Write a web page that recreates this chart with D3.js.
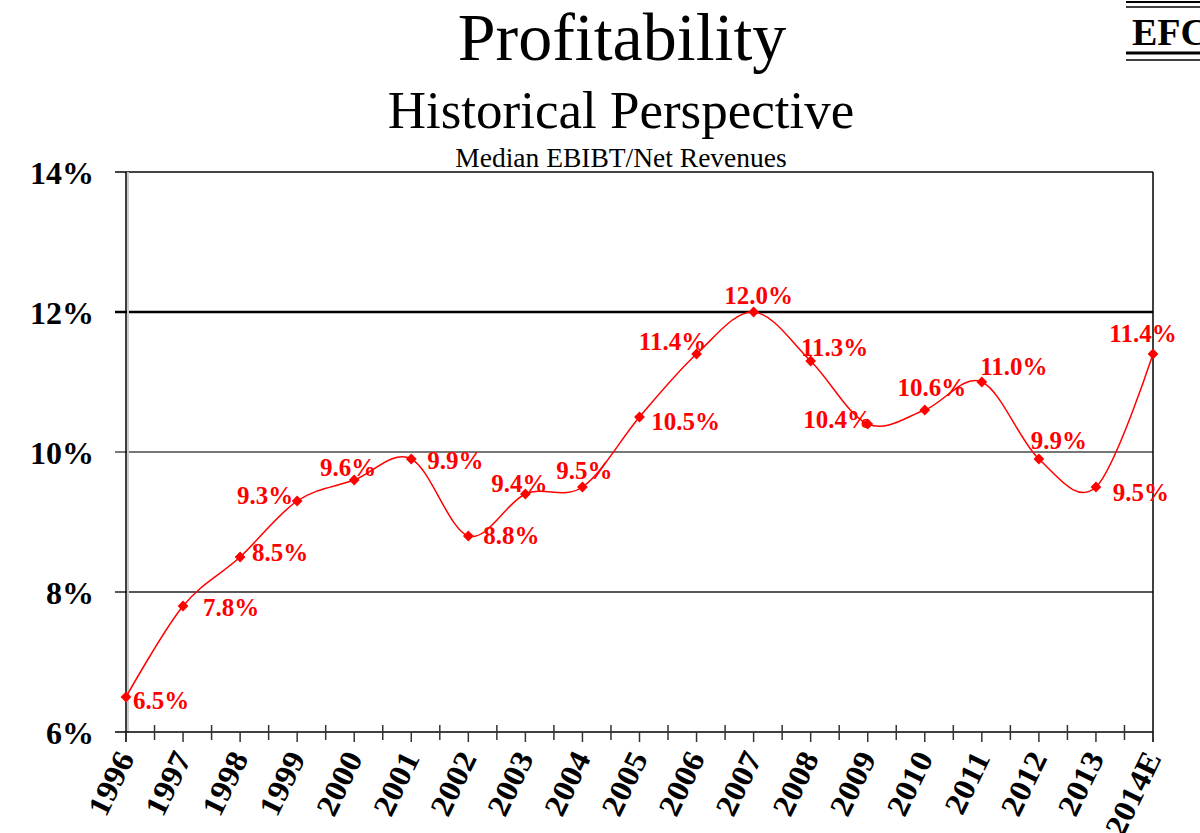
<!DOCTYPE html>
<html>
<head>
<meta charset="utf-8">
<script src="https://cdn.jsdelivr.net/npm/d3@7"></script>
<style>
  html, body { margin: 0; padding: 0; background: #fff; }
  svg { display: block; }
  text { font-family: "Liberation Serif", "Times New Roman", serif; }
</style>
</head>
<body>
<svg id="chart" width="1200" height="833"></svg>
<script>
// ---- data ----
const years = ["1996","1997","1998","1999","2000","2001","2002","2003","2004","2005","2006","2007","2008","2009","2010","2011","2012","2013","2014E"];
const values = [6.5, 7.8, 8.5, 9.3, 9.6, 9.9, 8.8, 9.4, 9.5, 10.5, 11.4, 12.0, 11.3, 10.4, 10.6, 11.0, 9.9, 9.5, 11.4];
const yTicks = [6, 8, 10, 12, 14];
// label centre offsets from each point (px)
const labelDx = [35, 48, 40, -32, -6, 44, 43, -6, 2, 46, -24, 5, 24, -30, 7, 32, 20, 45, -10];
const labelDy = [3, 1, -5, -6, -13, 1, -1, -11, -17, 4, -13, -17, -14, -5, -23, -16, -19, 5, -21];

const svg = d3.select("#chart");
const plotL = 126, plotR = 1153, plotT = 172, plotB = 732;

const x = d3.scalePoint().domain(years).range([plotL, plotR]);
const y = d3.scaleLinear().domain([6, 14]).range([plotB, plotT]);

// ---- titles ----
svg.append("text").attr("x", 622).attr("y", 60).attr("text-anchor", "middle")
  .attr("font-size", 68).text("Profitability");
svg.append("text").attr("x", 621).attr("y", 128).attr("text-anchor", "middle")
  .attr("font-size", 53).text("Historical Perspective");
svg.append("text").attr("x", 621).attr("y", 167).attr("text-anchor", "middle")
  .attr("font-size", 27.5).text("Median EBIBT/Net Revenues");

// ---- EFC logo (clipped at the right edge, as in the source) ----
const logo = svg.append("g");
logo.append("line").attr("x1", 1126).attr("x2", 1200).attr("y1", 2).attr("y2", 2).attr("stroke", "#000").attr("stroke-width", 2);
logo.append("line").attr("x1", 1126).attr("x2", 1200).attr("y1", 7).attr("y2", 7).attr("stroke", "#000").attr("stroke-width", 1.5);
logo.append("text").attr("x", 1132).attr("y", 45).attr("font-size", 38).attr("font-weight", "bold").text("EFC");
logo.append("line").attr("x1", 1126).attr("x2", 1200).attr("y1", 53).attr("y2", 53).attr("stroke", "#000").attr("stroke-width", 3);
logo.append("line").attr("x1", 1126).attr("x2", 1200).attr("y1", 60).attr("y2", 60).attr("stroke", "#000").attr("stroke-width", 1.5);

// ---- gridlines ----
const gridStyle = { 14: ["#444", 2], 12: ["#000", 2.5], 10: ["#777", 2], 8: ["#222", 1.5] };
svg.append("g").selectAll("line").data(yTicks.filter(t => t > 6)).join("line")
  .attr("x1", 115).attr("x2", plotR)
  .attr("y1", d => y(d)).attr("y2", d => y(d))
  .attr("stroke", d => gridStyle[d][0]).attr("stroke-width", d => gridStyle[d][1]);

// ---- y axis labels ----
svg.append("g").selectAll("text").data(yTicks).join("text")
  .attr("x", 94).attr("y", d => y(d)).attr("dy", "0.36em")
  .attr("text-anchor", "end").attr("font-size", 32).attr("font-weight", "bold")
  .text(d => d + "%");

// ---- axes frame ----
svg.append("line").attr("x1", plotL + 2).attr("x2", plotL + 2).attr("y1", plotT).attr("y2", plotB)
  .attr("stroke", "#ccc").attr("stroke-width", 2);
svg.append("line").attr("x1", plotL).attr("x2", plotL).attr("y1", plotT).attr("y2", plotB + 10)
  .attr("stroke", "#000").attr("stroke-width", 1.5);
svg.append("line").attr("x1", plotR).attr("x2", plotR).attr("y1", plotT).attr("y2", plotB + 10)
  .attr("stroke", "#000").attr("stroke-width", 1.5);
svg.append("line").attr("x1", 115).attr("x2", plotR).attr("y1", plotB).attr("y2", plotB)
  .attr("stroke", "#000").attr("stroke-width", 1.5);

// x ticks: at categories (below) and midpoints (crossing)
const step = x.step();
svg.append("g").selectAll("line").data(years).join("line")
  .attr("x1", d => x(d)).attr("x2", d => x(d)).attr("y1", plotB).attr("y2", plotB + 10)
  .attr("stroke", "#333").attr("stroke-width", 1.5);
svg.append("g").selectAll("line").data(years.slice(0, -1)).join("line")
  .attr("x1", d => x(d) + step / 2).attr("x2", d => x(d) + step / 2)
  .attr("y1", plotB - 7).attr("y2", plotB + 8)
  .attr("stroke", "#333").attr("stroke-width", 1.5);

// x labels rotated
svg.append("g").selectAll("text").data(years).join("text")
  .attr("transform", d => `translate(${x(d) + 9},${plotB + 26}) rotate(-64) scale(1.08,1)`)
  .attr("text-anchor", "end")
  .attr("font-size", 31).attr("font-weight", "bold")
  .text(d => d);

// ---- line ----
const line = d3.line()
  .x((d, i) => x(years[i]))
  .y(d => y(d))
  .curve(d3.curveCatmullRom.alpha(0));
svg.append("path").datum(values).attr("d", line)
  .attr("fill", "none").attr("stroke", "#ff0000").attr("stroke-width", 1.5);

// markers
const sym = d3.symbol().type(d3.symbolSquare).size(58);
svg.append("g").selectAll("path").data(values).join("path")
  .attr("d", sym)
  .attr("transform", (d, i) => `translate(${x(years[i])},${y(d)}) rotate(45)`)
  .attr("fill", "#ff0000");

// data labels
svg.append("g").selectAll("text").data(values).join("text")
  .attr("x", (d, i) => x(years[i]) + labelDx[i])
  .attr("y", (d, i) => y(d) + labelDy[i])
  .attr("dy", "0.35em").attr("text-anchor", "middle")
  .attr("font-size", 25).attr("font-weight", "bold").attr("fill", "#ff0000")
  .text(d => d.toFixed(1) + "%");
</script>
</body>
</html>
